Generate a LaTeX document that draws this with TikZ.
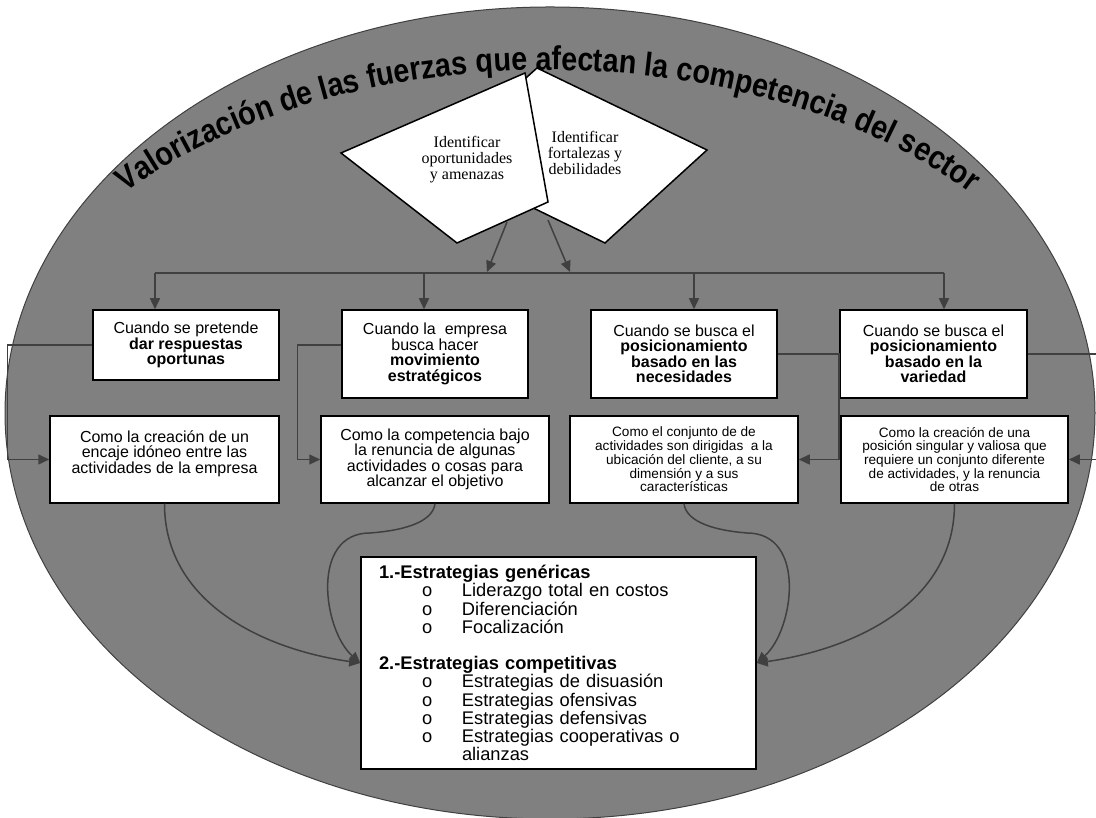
\documentclass[tikz,border=0pt]{standalone}
\usepackage{fontspec}
\setmainfont{Liberation Sans}
\newfontfamily\diamfont{Liberation Serif}
\newfontfamily\archfont[FakeStretch=0.87]{Liberation Sans Bold}
\usetikzlibrary{arrows.meta,decorations.text}

\definecolor{backgray}{HTML}{808080}
\definecolor{darkline}{HTML}{404040}
\newcommand\titlef{\archfont\fontsize{33}{33}\selectfont}
\newcommand\bul[1]{\hspace*{43pt}\makebox[40pt][l]{o}#1}

\begin{document}
\begin{tikzpicture}[x=1pt,y=1pt,
    box/.style = {draw,line width=1.5pt,fill=white,align=center,inner sep=0pt,font=\fontsize{16}{15.5}\selectfont},
    small box/.style = {box,font=\fontsize{13.6}{13.7}\selectfont},
    diam text/.style = {align=center,inner sep=0pt,font=\diamfont\fontsize{16}{16}\selectfont},
    plain conn/.style = {draw=darkline,line width=1.5pt},
    conn/.style = {plain conn,-{Triangle[length=11pt,width=10pt]}}]
    \useasboundingbox (0,0) rectangle (1096,818);
    % background and arched title
    \draw[fill=backgray,draw=darkline,line width=1pt] (550,405) ellipse [x radius=545, y radius=406];
    \path[decorate,decoration={text along path,text align=center,
        text={|\titlef|Valorización de las fuerzas que afectan la competencia del sector}}]
        (548,398) ++(145:555 and 350) arc[start angle=145,end angle=35,x radius=555,y radius=350];
    % the two diamonds
    \draw[fill=white,line width=1.5pt] (537,750) -- (707,668) -- (605,575) -- (435,658) -- cycle;
    \draw[fill=white,line width=1.5pt] (341,665) -- (525,745) -- (548,616) -- (457,575) -- cycle;
    \node[diam text] (opp) at (467,658) {Identificar\\oportunidades\\y amenazas};
    \node[diam text] (fort) at (585,665) {Identificar\\fortalezas y\\debilidades};
    \coordinate (opp out) at (507,596);
    \coordinate (opp in) at (487,546);
    \coordinate (fort out) at (548,598);
    \coordinate (fort in) at (570,546);
    \draw[conn] (opp out) -- (opp in);
    \draw[conn] (fort out) -- (fort in);
    % first row
    \node[box,minimum width=186,minimum height=70] (when1) at (186,473) {Cuando se pretende\\\textbf{dar respuestas}\\\textbf{oportunas}};
    \node[box,minimum width=186,minimum height=88] (when2) at (435,464) {Cuando la\ \ empresa\\busca hacer\\\textbf{movimiento}\\\textbf{estratégicos}};
    \node[box,minimum width=186,minimum height=88] (when3) at (684,464) {Cuando se busca el\\\textbf{posicionamiento}\\\textbf{basado en las}\\\textbf{necesidades}};
    \node[box,minimum width=187,minimum height=88] (when4) at (933.5,464) {Cuando se busca el\\\textbf{posicionamiento}\\\textbf{basado en la}\\\textbf{variedad}};
    \foreach \x [count=\i] in {155,424,694,944}
        \coordinate (drop\i) at (\x,545);
    \draw[plain conn] (drop1) -- (drop4);
    \foreach \i in {1,...,4}
        \draw[conn] (drop\i) -- (drop\i |- when\i.north);
    % second row
    \node[box,minimum width=229,minimum height=87] (how1) at (164.5,358.5) {Como la creación de un\\encaje idóneo entre las\\actividades de la empresa\\\mbox{}};
    \node[box,minimum width=228,minimum height=87] (how2) at (435,358.5) {Como la competencia bajo\\la renuncia de algunas\\actividades o cosas para\\alcanzar el objetivo};
    \node[small box,minimum width=228,minimum height=87] (how3) at (684,358.5) {Como el conjunto de de\\actividades son dirigidas\ \ a la\\ubicación del cliente, a su\\dimensión y a sus\\características};
    \node[small box,minimum width=227,minimum height=87] (how4) at (954.5,358.5) {Como la creación de una\\posición singular y valiosa que\\requiere un conjunto diferente\\de actividades, y la renuncia\\de otras};
    \draw[conn] (when1.west) -- ++(-85,0) |- (how1.west);
    \draw[conn] ([yshift=9pt]when2.west) -- ++(-44,0) |- (how2.west);
    \draw[conn] (when3.east) -- ++(61,0) |- (how3.east);
    \draw[conn] (when4.east) -- ++(75,0) |- (how4.east);
    % strategies
    \node[box,align=left,text width=359,minimum height=212,inner xsep=18pt,font=\fontsize{18.3}{18.2}\selectfont] (strat) at (558.5,155) {%
        \textbf{1.-Estrategias genéricas}\\
        \bul{Liderazgo total en costos}\\
        \bul{Diferenciación}\\
        \bul{Focalización}\\[18.2pt]
        \textbf{2.-Estrategias competitivas}\\
        \bul{Estrategias de disuasión}\\
        \bul{Estrategias ofensivas}\\
        \bul{Estrategias defensivas}\\
        \bul{Estrategias cooperativas o}\\
        \hspace*{83pt}alianzas};
    \draw[conn] (how1.south) to[out=-90,in=172] (strat.west);
    \draw[conn] (how2.south) .. controls (433,298) and (410,288) .. (370,285) .. controls (310,285) and (323,188) .. (strat.west);
    \draw[conn] (how3.south) .. controls (686,298) and (709,288) .. (747,285) .. controls (807,285) and (794,188) .. (strat.east);
    \draw[conn] (how4.south) to[out=-90,in=8] (strat.east);
\end{tikzpicture}
\end{document}
